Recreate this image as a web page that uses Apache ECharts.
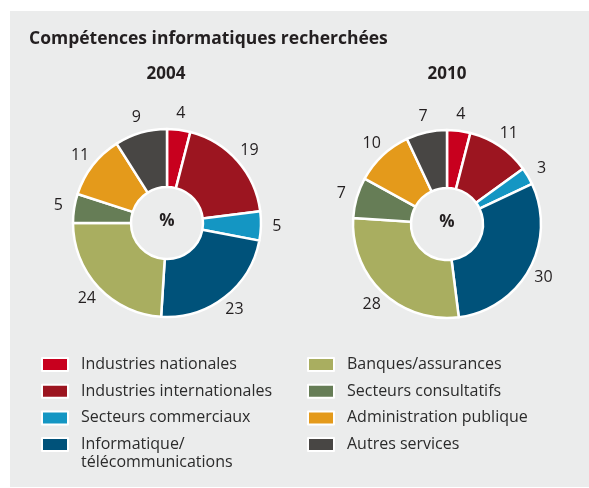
<!DOCTYPE html>
<html>
<head>
  <meta charset="utf-8" />
  <title>Compétences informatiques recherchées</title>
  <script src="https://cdn.jsdelivr.net/npm/echarts@6/dist/echarts.min.js"></script>
  <style>
    html, body { margin: 0; padding: 0; background: #fff; }
    #main { width: 589px; height: 488px; }
  </style>
</head>
<body>
  <div id="main"></div>
  <script type="text/javascript">
    var categories = ['Industries nationales', 'Industries internationales', 'Secteurs commerciaux',
        'Informatique/\ntélécommunications', 'Banques/assurances', 'Secteurs consultatifs',
        'Administration publique', 'Autres services'];
    var colors = ['#c8001e', '#9c1520', '#1496c3', '#00527a', '#a9ae60', '#667d56', '#e49a1b', '#484644'];
    var values2004 = [4, 19, 5, 23, 24, 5, 11, 9];
    var values2010 = [4, 11, 3, 30, 28, 7, 10, 7];
    var years = ['2004', '2010'];

    var FONT = '"Open Sans", "Noto Sans", sans-serif';
    var INK = '#231f20';
    var centers = [[167, 223], [447, 224]];

    function toData(vals, hidden) {
        return vals.map(function (v, i) {
            return {name: categories[i], value: v, itemStyle: hidden ? {color: 'rgba(0,0,0,0)'} : {color: colors[i]}};
        });
    }

    // the coloured ring
    function pieSeries(name, vals, center) {
        return {
            name: name, type: 'pie', center: center, radius: [36, 94],
            startAngle: 90, clockwise: true, silent: true, animation: false,
            itemStyle: {borderColor: '#ffffff', borderWidth: 2.5},
            label: {show: false}, labelLine: {show: false},
            data: toData(vals)
        };
    }

    // invisible outer ring, only carries the value labels
    function labelSeries(name, vals, center) {
        return {
            name: name + '-labels', type: 'pie', center: center, radius: [99, 115],
            startAngle: 90, clockwise: true, silent: true, animation: false,
            label: {show: true, position: 'inside', formatter: '{c}',
                fontFamily: FONT, fontSize: 16, color: INK},
            labelLine: {show: false},
            data: toData(vals, true)
        };
    }

    function legendBlock(names, left, top, formatter) {
        var leg = {
            orient: 'vertical', left: left, top: top, padding: 0,
            itemWidth: 26, itemHeight: 13, itemGap: 8.7, icon: 'rect',
            selectedMode: false,
            textStyle: {fontFamily: FONT, fontSize: 16, color: '#2b2b2b', lineHeight: 18, padding: [0, 0, 0, 8]},
            data: names
        };
        if (formatter) leg.formatter = formatter;
        return leg;
    }

    var myChart = echarts.init(document.getElementById('main'), null, {renderer: 'canvas'});
    var option = {
        backgroundColor: '#ffffff',
        graphic: [{type: 'rect', z: -10, shape: {x: 10, y: 11, width: 579, height: 476}, style: {fill: '#ebecec'}}],
        title: [
            {text: 'Compétences informatiques recherchées', left: 29, top: 30, padding: 0,
             textStyle: {fontFamily: FONT, fontSize: 17.5, fontWeight: 'bold', color: INK}},
            {text: years[0], left: centers[0][0] - 1, top: 66, textAlign: 'center', padding: 0,
             textStyle: {fontFamily: FONT, fontSize: 17, fontWeight: 'bold', color: INK}},
            {text: years[1], left: centers[1][0], top: 66, textAlign: 'center', padding: 0,
             textStyle: {fontFamily: FONT, fontSize: 17, fontWeight: 'bold', color: INK}},
            {text: '%', left: centers[0][0], top: centers[0][1] - 10, textAlign: 'center', padding: 0,
             textStyle: {fontFamily: FONT, fontSize: 17, fontWeight: 'bold', color: INK}},
            {text: '%', left: centers[1][0], top: centers[1][1] - 10, textAlign: 'center', padding: 0,
             textStyle: {fontFamily: FONT, fontSize: 17, fontWeight: 'bold', color: INK}}
        ],
        legend: [
            legendBlock(categories.slice(0, 3), 41, 355.5),
            // blank first line so the swatch lines up with "Informatique/"
            legendBlock(categories.slice(3, 4), 41, 417.5, function (n) { return ' \n' + n; }),
            legendBlock(categories.slice(4, 8), 307, 355.5)
        ],
        series: [
            pieSeries(years[0], values2004, centers[0]),
            pieSeries(years[1], values2010, centers[1]),
            labelSeries(years[0], values2004, centers[0]),
            labelSeries(years[1], values2010, centers[1])
        ]
    };
    myChart.setOption(option);
  </script>
</body>
</html>
